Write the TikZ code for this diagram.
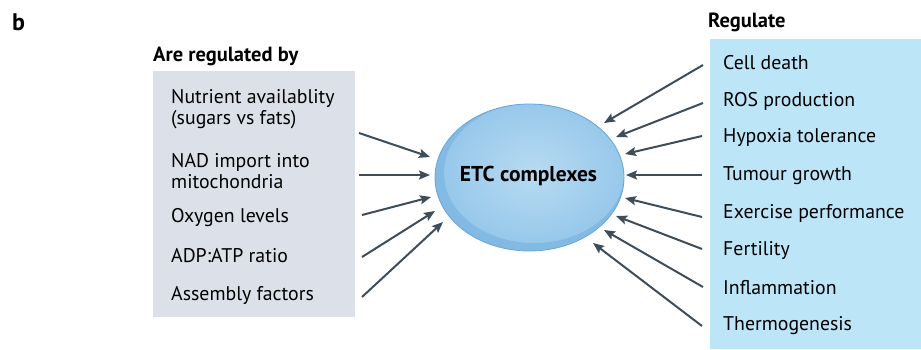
\documentclass[tikz,border=0pt]{standalone}
\usepackage{fontspec}
\setmainfont{PT Sans}
\usetikzlibrary{shapes.geometric,arrows.meta}
\definecolor{leftbox}{HTML}{DCE0E9}
\definecolor{rightbox}{HTML}{BDE5F8}
\definecolor{arrowcol}{HTML}{3E4D58}
\definecolor{ballin}{HTML}{B8DBF2}
\definecolor{ballout}{HTML}{97C8EA}
\definecolor{ballband}{HTML}{82BAE3}
\definecolor{balledge}{HTML}{68A6D7}
\tikzset{
  itemtext/.style={anchor=west, inner sep=0pt, font=\fontsize{19.8}{21.5}\selectfont, align=left, text=black},
  headtext/.style={anchor=west, inner sep=0pt, font=\fontsize{20.5}{22}\selectfont\bfseries},
  link/.style={draw=arrowcol, line width=2pt, -{Stealth[length=11pt,width=9pt,inset=2pt]}},
}
\begin{document}
\begin{tikzpicture}[x=1pt,y=-1pt]
\useasboundingbox (0,0) rectangle (921,349);
% panel letter
\node[headtext, font=\fontsize{24}{26}\selectfont\bfseries] (panel) at (12,22) {b};
% side panels
\fill[leftbox] (153,71) rectangle (355,317);
\fill[rightbox] (710,39) rectangle (921,349);
\node[headtext] (lefttitle) at (153,56) {Are regulated by};
\node[headtext] (righttitle) at (708,22) {Regulate};
% central complex: darker rim band with a lighter, offset core
\fill[ballband] (529.5,177.5) ellipse [x radius=94.5, y radius=73.5];
\begin{scope}
  \clip (529.5,177.5) ellipse [x radius=94.5, y radius=73.5];
  \shade[inner color=ballin, outer color=ballout] (534,173) ellipse [x radius=90, y radius=70];
\end{scope}
\draw[balledge, line width=0.8pt] (529.5,177.5) ellipse [x radius=94.5, y radius=73.5];
\node[font=\fontsize{21.5}{23}\selectfont\bfseries, inner sep=0pt] (etc) at (528.5,176) {ETC complexes};
% inputs
\node[itemtext] (in1) at (171,109) {Nutrient availablity\\(sugars vs fats)};
\node[itemtext] (in2) at (171,171) {NAD import into\\mitochondria};
\node[itemtext] (in3) at (171,218) {Oxygen levels};
\node[itemtext] (in4) at (171,256) {ADP:ATP ratio};
\node[itemtext] (in5) at (171,295) {Assembly factors};
% outputs
\node[itemtext] (out1) at (723,63) {Cell death};
\node[itemtext] (out2) at (723,101) {ROS production};
\node[itemtext] (out3) at (723,138) {Hypoxia tolerance};
\node[itemtext] (out4) at (723,176) {Tumour growth};
\node[itemtext] (out5) at (723,213) {Exercise performance};
\node[itemtext] (out6) at (723,251) {Fertility};
\node[itemtext] (out7) at (723,288) {Inflammation};
\node[itemtext] (out8) at (723,326) {Thermogenesis};
% arrow ends
\coordinate (a1) at (359,133);  \coordinate (b1) at (430,157);
\coordinate (a2) at (359,175);  \coordinate (b2) at (430,175);
\coordinate (a3) at (362,215);  \coordinate (b3) at (431,197);
\coordinate (a4) at (362,257);  \coordinate (b4) at (435,211);
\coordinate (a5) at (362,297);  \coordinate (b5) at (443,222);
\coordinate (c1) at (703,65);   \coordinate (d1) at (604,123);
\coordinate (c2) at (703,103);  \coordinate (d2) at (616,137);
\coordinate (c3) at (702,136);  \coordinate (d3) at (625,154);
\coordinate (c4) at (702,175);  \coordinate (d4) at (626,175);
\coordinate (c5) at (702,217);  \coordinate (d5) at (625,198);
\coordinate (c6) at (702,249);  \coordinate (d6) at (616,216);
\coordinate (c7) at (703,287);  \coordinate (d7) at (604,230);
\coordinate (c8) at (702,326);  \coordinate (d8) at (593,243);
\foreach \i in {1,...,5} \draw[link] (a\i) -- (b\i);
\foreach \i in {1,...,8} \draw[link] (c\i) -- (d\i);
\end{tikzpicture}
\end{document}
